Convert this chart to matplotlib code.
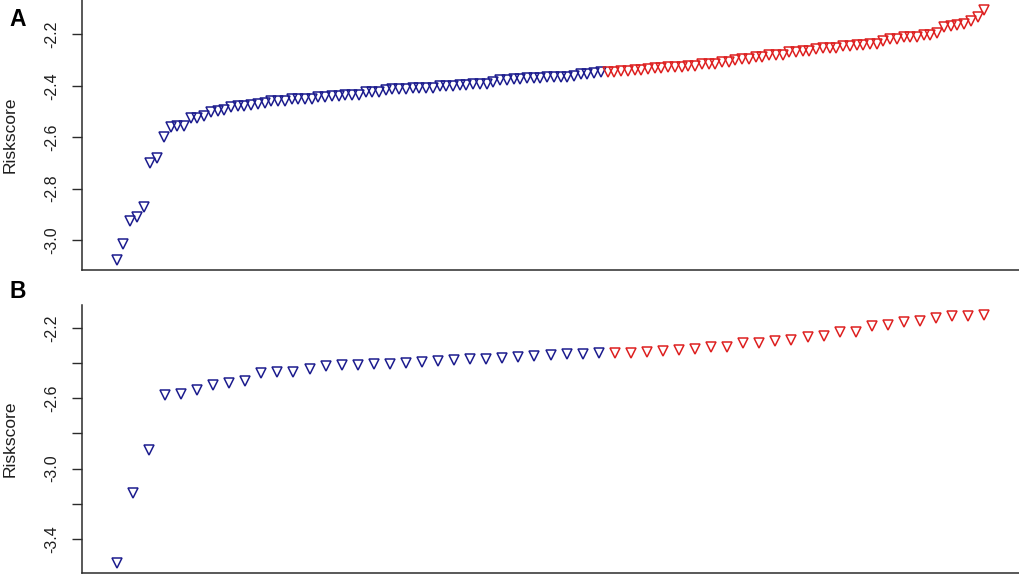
import matplotlib
matplotlib.use("Agg")
import matplotlib.pyplot as plt
import numpy as np

plt.rcParams['font.family'] = ['Liberation Sans', 'DejaVu Sans']

# panel A: sorted risk scores, first n_low_a are low risk (blue), rest high (red)
risk_a = [-3.078, -3.016, -2.928, -2.909, -2.873, -2.702, -2.680, -2.601, -2.562, -2.558,
          -2.556, -2.527, -2.526, -2.516, -2.501, -2.497, -2.496, -2.484, -2.480, -2.477,
          -2.474, -2.469, -2.466, -2.460, -2.459, -2.458, -2.453, -2.452, -2.451, -2.450,
          -2.443, -2.442, -2.439, -2.438, -2.437, -2.436, -2.435, -2.426, -2.424, -2.423,
          -2.415, -2.413, -2.412, -2.411, -2.410, -2.409, -2.408, -2.407, -2.401, -2.400,
          -2.399, -2.396, -2.395, -2.394, -2.393, -2.392, -2.387, -2.379, -2.378, -2.374,
          -2.373, -2.369, -2.368, -2.368, -2.367, -2.366, -2.365, -2.364, -2.363, -2.356,
          -2.355, -2.349, -2.348,
          -2.346, -2.345, -2.344, -2.343, -2.338, -2.337, -2.336, -2.330, -2.329, -2.328,
          -2.327, -2.327, -2.323, -2.322, -2.316, -2.315, -2.314, -2.309, -2.308, -2.300,
          -2.295, -2.294, -2.289, -2.288, -2.281, -2.280, -2.279, -2.268, -2.267, -2.266,
          -2.265, -2.255, -2.254, -2.253, -2.252, -2.245, -2.244, -2.243, -2.240, -2.239,
          -2.238, -2.227, -2.219, -2.218, -2.211, -2.210, -2.209, -2.204, -2.203, -2.195,
          -2.173, -2.169, -2.165, -2.160, -2.146, -2.133, -2.105]
n_low_a = 73

# panel B
risk_b = [-3.537, -3.137, -2.895, -2.583, -2.578, -2.551, -2.527, -2.512, -2.504, -2.457,
          -2.451, -2.451, -2.432, -2.414, -2.410, -2.409, -2.406, -2.404, -2.402, -2.394,
          -2.389, -2.385, -2.379, -2.376, -2.370, -2.364, -2.357, -2.353, -2.351, -2.349,
          -2.343,
          -2.343, -2.341, -2.334, -2.333, -2.327, -2.319, -2.309, -2.306, -2.287, -2.285,
          -2.275, -2.268, -2.249, -2.244, -2.224, -2.221, -2.190, -2.183, -2.164, -2.163,
          -2.145, -2.134, -2.133, -2.126]
n_low_b = 31

ticks_a = [-3.0, -2.8, -2.6, -2.4, -2.2]
tick_labels_a = ['-3.0', '-2.8', '-2.6', '-2.4', '-2.2']
ticks_b = [-3.4, -3.2, -3.0, -2.8, -2.6, -2.4, -2.2]
tick_labels_b = ['-3.4', '', '-3.0', '', '-2.6', '', '-2.2']

blue = '#1c1c8e'
red = '#de2020'
dark = '#2b2b2b'

W, H = 1020, 575
fig = plt.figure(figsize=(W / 100, H / 100), dpi=100)


def panel(rect, vals, n_low, ticks, labels, letter, letter_y):
    ax = fig.add_axes(rect)
    n = len(vals)
    x = np.arange(1, n + 1)
    ax.plot(x[:n_low], vals[:n_low], linestyle='none', marker='v', ms=7.2,
            mfc='none', mec=blue, mew=1.1)
    ax.plot(x[n_low:], vals[n_low:], linestyle='none', marker='v', ms=7.2,
            mfc='none', mec=red, mew=1.1)
    # R style 4% padding
    pad = 0.04 * (n - 1)
    ax.set_xlim(1 - pad, n + pad)
    lo, hi = min(vals), max(vals)
    ypad = 0.04 * (hi - lo)
    ax.set_ylim(lo - ypad, hi + ypad)
    ax.set_xticks([])
    ax.set_yticks(ticks)
    ax.set_yticklabels(labels, rotation=90, va='center')
    ax.tick_params(axis='y', length=7.5, width=1.0, color=dark, pad=9,
                   labelsize=11.5, labelcolor='#1e1e1e')
    for s in ['top', 'right']:
        ax.spines[s].set_visible(False)
    for s in ['left', 'bottom']:
        ax.spines[s].set_color(dark)
        ax.spines[s].set_linewidth(1.1)
    # y label placed in figure pixels so it stays inside the picture
    y0 = rect[1] + rect[3] / 2
    fig.text(10 / W, y0, 'Riskscore', rotation=90, fontsize=12.5, color='#1e1e1e',
             ha='center', va='center')
    fig.text(18 / W, 1 - letter_y / H, letter, fontsize=16.5, fontweight='bold',
             ha='center', va='center', color='black')
    return ax


left = 82 / W
width = (1019 - 82) / W
panel([left, 1 - 270 / H, width, 270 / H], risk_a, n_low_a, ticks_a, tick_labels_a, 'A', 20)
panel([left, 1 - 573 / H, width, (573 - 305) / H], risk_b, n_low_b, ticks_b, tick_labels_b, 'B', 292)

fig.savefig('out.png', dpi=100, facecolor='white')
